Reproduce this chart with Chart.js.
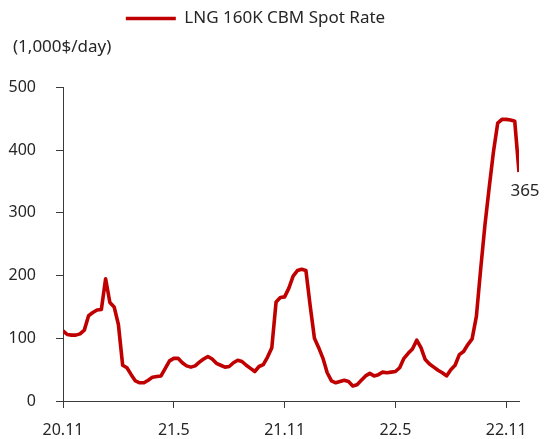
<!DOCTYPE html>
<html>
<head>
<meta charset="utf-8">
<script src="https://cdn.jsdelivr.net/npm/chart.js@4/dist/chart.umd.min.js"></script>
<style>
  html, body { margin: 0; padding: 0; background: #ffffff; }
  #wrap { width: 552px; height: 439px; }
</style>
</head>
<body>
<div id="wrap"><canvas id="c" width="552" height="439"></canvas></div>
<script>
// Weekly LNG 160K CBM spot rate (1,000$/day), from 20.11 onward
const spotRate = [
  112, 106, 105, 105, 107, 113, 136, 141, 145, 146,
  195, 157, 150, 122, 57, 53, 42, 32, 29, 29,
  33, 38, 39, 40, 52, 64, 68, 68, 61, 56,
  54, 56, 62, 67, 71, 67, 60, 57, 54, 55,
  61, 65, 63, 57, 52, 47, 55, 58, 70, 85,
  158, 165, 166, 180, 199, 208, 210, 208, 152, 100,
  85, 68, 45, 32, 29, 31, 33, 31, 24, 26,
  33, 40, 44, 40, 42, 46, 45, 46, 47, 53,
  68, 76, 83, 97, 85, 66, 59, 54, 49, 45,
  40, 50, 57, 74, 79, 90, 99, 135, 210, 280,
  340, 397, 443, 449, 449, 448, 446, 365
];
// x tick labels and the week index where each sits
const tickLabels = ['20.11', '21.5', '21.11', '22.5', '22.11'];
const tickWeeks = [0, 26, 52, 78, 104];
const yTicks = [0, 100, 200, 300, 400, 500];
const seriesName = 'LNG 160K CBM Spot Rate';
const unitLabel = '(1,000$/day)';

const points = spotRate.map((v, i) => ({ x: i, y: v }));
const FONT = 'Noto Sans';
const TXT = '#262626';
const AX = '#3a3a3a';

const lastLabel = {
  id: 'lastLabel',
  afterLayout(chart) {
    // unit label sits slightly indented from the left edge
    if (chart.titleBlock) { chart.titleBlock.left = 13; }
    // legend is centred a little left of the canvas centre
    if (chart.legend) { chart.legend.left -= 4; chart.legend.right -= 4; }
  },
  afterDatasetsDraw(chart) {
    const meta = chart.getDatasetMeta(0);
    const n = spotRate.length - 1;
    const pt = meta.data[n];
    const ctx = chart.ctx;
    ctx.save();
    ctx.fillStyle = TXT;
    ctx.font = '17px "' + FONT + '"';
    ctx.textAlign = 'center';
    ctx.textBaseline = 'middle';
    ctx.fillText(String(spotRate[n]), pt.x + 6, pt.y + 19);
    ctx.restore();
  }
};

new Chart(document.getElementById('c'), {
  type: 'line',
  data: {
    datasets: [{
      label: seriesName,
      data: points,
      borderColor: '#c00000',
      backgroundColor: '#c00000',
      borderWidth: 3.6,
      pointRadius: 0,
      tension: 0,
      borderJoinStyle: 'round',
      borderCapStyle: 'butt',
      fill: false
    }]
  },
  options: {
    responsive: false,
    animation: false,
    events: [],
    layout: { padding: { left: 0, right: 33, top: 0, bottom: 0 } },
    plugins: {
      legend: {
        display: true,
        position: 'top',
        align: 'center',
        weight: 3000,
        labels: {
          usePointStyle: true,
          pointStyle: 'line',
          pointStyleWidth: 50,
          padding: 10,
          color: TXT,
          font: { family: FONT, size: 17 }
        }
      },
      title: {
        display: true,
        text: unitLabel,
        align: 'start',
        weight: 500,
        color: TXT,
        font: { family: FONT, size: 17, weight: 'normal', lineHeight: 1.2 },
        padding: { top: 0, bottom: 30 }
      },
      tooltip: { enabled: false }
    },
    scales: {
      x: {
        type: 'linear',
        min: 0,
        max: spotRate.length - 1,
        afterBuildTicks: s => { s.ticks = tickWeeks.map(v => ({ value: v })); },
        afterFit: s => { s.height = 38; },
        ticks: {
          autoSkip: false,
          maxRotation: 0,
          padding: 13,
          color: TXT,
          font: { family: FONT, size: 16 },
          callback: (v) => {
            const k = tickWeeks.indexOf(v);
            return k >= 0 ? tickLabels[k] : '';
          }
        },
        grid: { display: true, drawOnChartArea: false, drawTicks: true, tickLength: 7, color: AX, lineWidth: 1 },
        border: { display: true, color: AX, width: 1 }
      },
      y: {
        type: 'linear',
        min: yTicks[0],
        max: yTicks[yTicks.length - 1],
        afterBuildTicks: s => { s.ticks = yTicks.map(v => ({ value: v })); },
        afterFit: s => { s.width = 63; },
        ticks: {
          padding: 20,
          color: TXT,
          font: { family: FONT, size: 16 }
        },
        grid: { display: true, drawOnChartArea: false, drawTicks: true, tickLength: 7, color: AX, lineWidth: 1 },
        border: { display: true, color: AX, width: 1 }
      }
    }
  },
  plugins: [lastLabel]
});
</script>
</body>
</html>
